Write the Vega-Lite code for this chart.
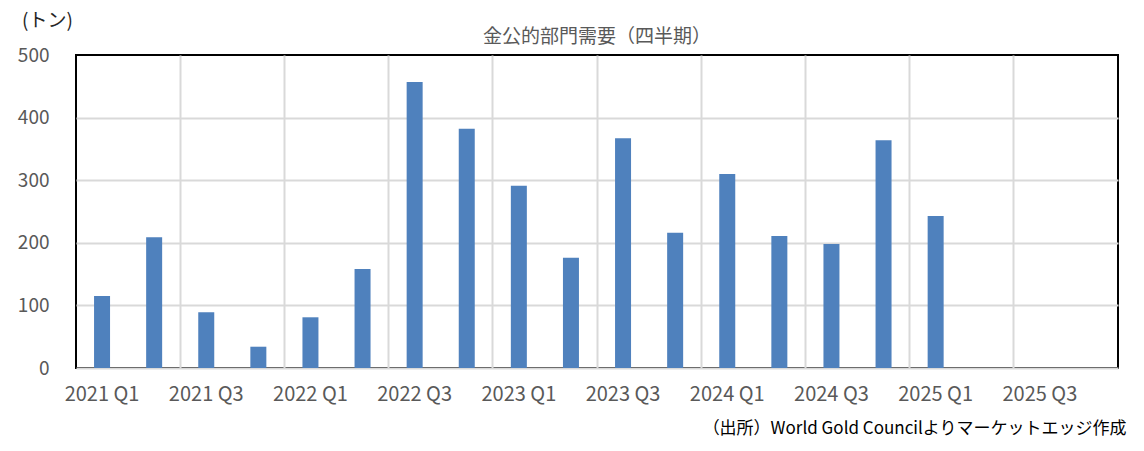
{
  "$schema": "https://vega.github.io/schema/vega-lite/v6.json",
  "autosize": "none",
  "width": 1042,
  "height": 313,
  "padding": {"left": 76, "top": 55, "right": 26, "bottom": 83},
  "background": "white",
  "config": {
    "font": "Noto Sans CJK JP",
    "view": {"stroke": "#000000", "strokeWidth": 2}
  },
  "title": {
    "text": "金公的部門需要（四半期）",
    "fontSize": 19,
    "fontWeight": "normal",
    "color": "#595959",
    "anchor": "middle",
    "offset": 10,
    "dy": 46
  },
  "data": {
    "values": [
      {"quarter": "2021 Q1", "tons": 115},
      {"quarter": "2021 Q2", "tons": 209},
      {"quarter": "2021 Q3", "tons": 89},
      {"quarter": "2021 Q4", "tons": 34},
      {"quarter": "2022 Q1", "tons": 81},
      {"quarter": "2022 Q2", "tons": 158},
      {"quarter": "2022 Q3", "tons": 457},
      {"quarter": "2022 Q4", "tons": 382},
      {"quarter": "2023 Q1", "tons": 291},
      {"quarter": "2023 Q2", "tons": 176},
      {"quarter": "2023 Q3", "tons": 367},
      {"quarter": "2023 Q4", "tons": 216},
      {"quarter": "2024 Q1", "tons": 310},
      {"quarter": "2024 Q2", "tons": 211},
      {"quarter": "2024 Q3", "tons": 198},
      {"quarter": "2024 Q4", "tons": 364},
      {"quarter": "2025 Q1", "tons": 243}
    ]
  },
  "mark": {"type": "bar", "width": 16, "color": "#4f81bd"},
  "encoding": {
    "x": {
      "field": "quarter",
      "type": "ordinal",
      "sort": null,
      "scale": {
        "domain": ["2021 Q1","2021 Q2","2021 Q3","2021 Q4","2022 Q1","2022 Q2","2022 Q3","2022 Q4","2023 Q1","2023 Q2","2023 Q3","2023 Q4","2024 Q1","2024 Q2","2024 Q3","2024 Q4","2025 Q1","2025 Q2","2025 Q3","2025 Q4"],
        "paddingInner": 0,
        "paddingOuter": 0
      },
      "axis": {
        "title": "（出所）World Gold Councilよりマーケットエッジ作成",
        "titleFontSize": 17,
        "titleFontWeight": "normal",
        "titleColor": "#000000",
        "titleAlign": "right",
        "titleBaseline": "middle",
        "titleX": 1050,
        "titleY": 60,
        "values": ["2021 Q1","2021 Q3","2022 Q1","2022 Q3","2023 Q1","2023 Q3","2024 Q1","2024 Q3","2025 Q1","2025 Q3"],
        "labelAngle": 0,
        "labelFontSize": 20,
        "labelColor": "#595959",
        "labelPadding": 16,
        "labelBaseline": "top",
        "ticks": false,
        "tickSize": 0,
        "domain": false,
        "bandPosition": 0,
        "tickExtra": false,
        "grid": true,
        "gridColor": {"condition": {"test": "datum.value === '2021 Q1'", "value": "transparent"}, "value": "#d9d9d9"},
        "gridWidth": 2
      }
    },
    "y": {
      "field": "tons",
      "type": "quantitative",
      "scale": {"domain": [0, 500], "nice": false},
      "axis": {
        "title": "(トン)",
        "titleFontSize": 19,
        "titleFontWeight": "normal",
        "titleColor": "#262626",
        "titleAngle": 0,
        "titleAlign": "center",
        "titleBaseline": "middle",
        "titleX": -29,
        "titleY": -35,
        "values": [0, 100, 200, 300, 400, 500],
        "labelFontSize": 19,
        "labelColor": "#595959",
        "labelPadding": 27,
        "ticks": false,
        "tickSize": 0,
        "domain": false,
        "grid": true,
        "gridColor": {"condition": {"test": "datum.value === 500", "value": "transparent"}, "value": "#d9d9d9"},
        "gridWidth": 2
      }
    }
  }
}
